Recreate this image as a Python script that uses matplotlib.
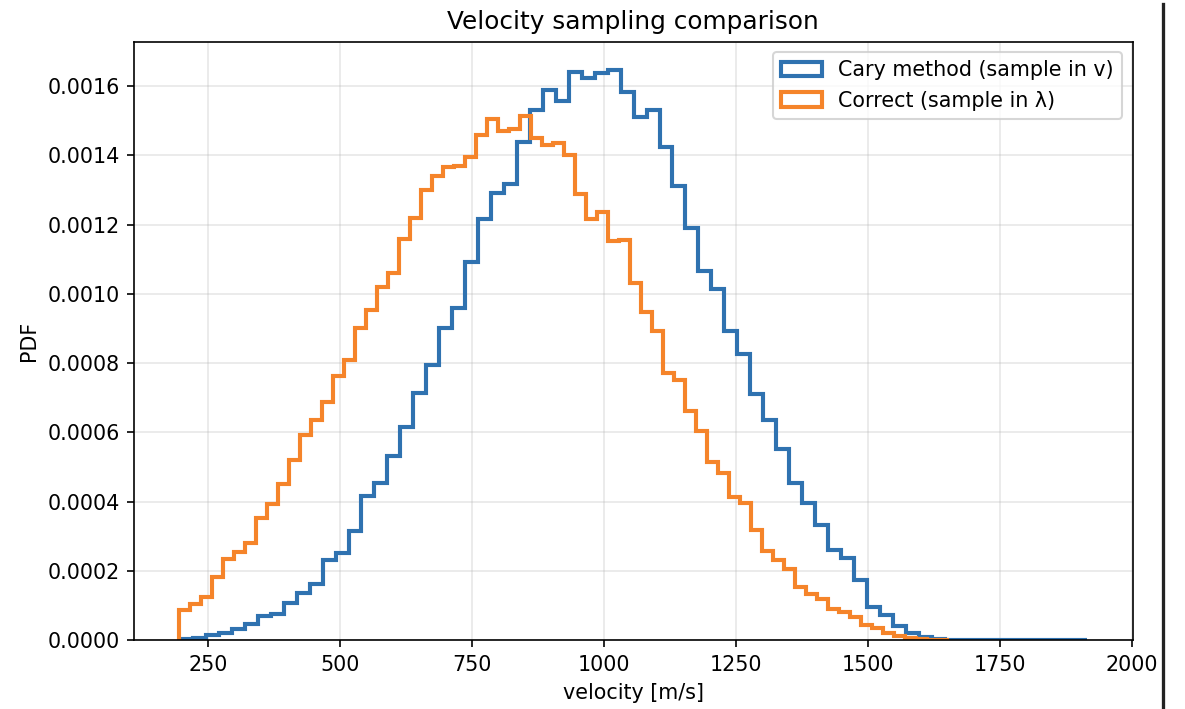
import numpy as np
import matplotlib
matplotlib.use("Agg")
import matplotlib.pyplot as plt
from matplotlib.lines import Line2D

# bin layout (70 bins per histogram)
n_bins = 70
cary_range = (197.6, 1914.7)
correct_range = (196.3, 1653.7)

# PDF per bin, Cary method (sample in v)
cary_pdf = [
    3e-6, 6e-6, 1.5e-5, 2.2e-5, 3.2e-5, 4.7e-5, 7.0e-5, 7.5e-5, 1.09e-4, 1.38e-4,
    1.62e-4, 2.31e-4, 2.52e-4, 3.17e-4, 4.18e-4, 4.55e-4, 5.33e-4, 6.15e-4, 7.14e-4, 7.94e-4,
    9.01e-4, 9.60e-4, 1.092e-3, 1.216e-3, 1.291e-3, 1.318e-3, 1.440e-3, 1.531e-3, 1.589e-3, 1.558e-3,
    1.641e-3, 1.624e-3, 1.637e-3, 1.646e-3, 1.584e-3, 1.510e-3, 1.531e-3, 1.423e-3, 1.313e-3, 1.189e-3,
    1.066e-3, 1.013e-3, 8.93e-4, 8.26e-4, 7.11e-4, 6.36e-4, 5.51e-4, 4.55e-4, 3.96e-4, 3.32e-4,
    2.60e-4, 2.39e-4, 1.74e-4, 9.7e-5, 7.3e-5, 4.2e-5, 2.2e-5, 9e-6, 3e-6, 2e-6,
    1.5e-6, 1e-6, 1e-6, 5e-7, 5e-7, 3e-7, 2e-7, 2e-7, 1e-7, 1e-7,
]

# PDF per bin, correct method (sample in lambda)
correct_pdf = [
    8.7e-5, 1.06e-4, 1.25e-4, 1.83e-4, 2.34e-4, 2.55e-4, 2.81e-4, 3.53e-4, 3.94e-4, 4.50e-4,
    5.22e-4, 5.93e-4, 6.37e-4, 6.87e-4, 7.64e-4, 8.09e-4, 9.01e-4, 9.55e-4, 1.020e-3, 1.060e-3,
    1.160e-3, 1.220e-3, 1.300e-3, 1.340e-3, 1.366e-3, 1.370e-3, 1.395e-3, 1.460e-3, 1.505e-3, 1.470e-3,
    1.476e-3, 1.515e-3, 1.450e-3, 1.430e-3, 1.437e-3, 1.400e-3, 1.290e-3, 1.215e-3, 1.236e-3, 1.154e-3,
    1.157e-3, 1.032e-3, 9.49e-4, 8.93e-4, 7.73e-4, 7.51e-4, 6.63e-4, 6.03e-4, 5.16e-4, 4.82e-4,
    4.13e-4, 3.96e-4, 3.19e-4, 2.57e-4, 2.33e-4, 2.07e-4, 1.54e-4, 1.33e-4, 1.19e-4, 8.9e-5,
    8.1e-5, 6.8e-5, 4.4e-5, 3.6e-5, 2.2e-5, 1.2e-5, 6e-6, 4e-6, 2e-6, 1e-6,
]

labels = ["Cary method (sample in v)", "Correct (sample in λ)"]

cary_edges = np.linspace(cary_range[0], cary_range[1], n_bins + 1)
correct_edges = np.linspace(correct_range[0], correct_range[1], n_bins + 1)

fig = plt.figure(figsize=(8, 709 / 148.125), dpi=148.125)
ax = fig.add_axes([134 / 1185, 1 - 640.3 / 709, (1132.5 - 134) / 1185, (640.3 - 41.7) / 709])

ax.hist(cary_edges[:-1], bins=cary_edges, weights=cary_pdf, histtype="step",
        linewidth=2.0, color="#2f72b0", label=labels[0])
ax.hist(correct_edges[:-1], bins=correct_edges, weights=correct_pdf, histtype="step",
        linewidth=2.0, color="#f5842a", label=labels[1])

ax.set_title("Velocity sampling comparison")
ax.set_xlabel("velocity [m/s]")
ax.set_ylabel("PDF")
ax.grid(True, alpha=0.3)
ax.legend(loc="upper right")

# dark bar at the right edge of the screenshot
fig.add_artist(Line2D([1163 / 1185, 1163 / 1185], [0, 1 - 4 / 709],
                      transform=fig.transFigure, color="#222222", linewidth=1.6))

fig.savefig("out.png", dpi=148.125)
